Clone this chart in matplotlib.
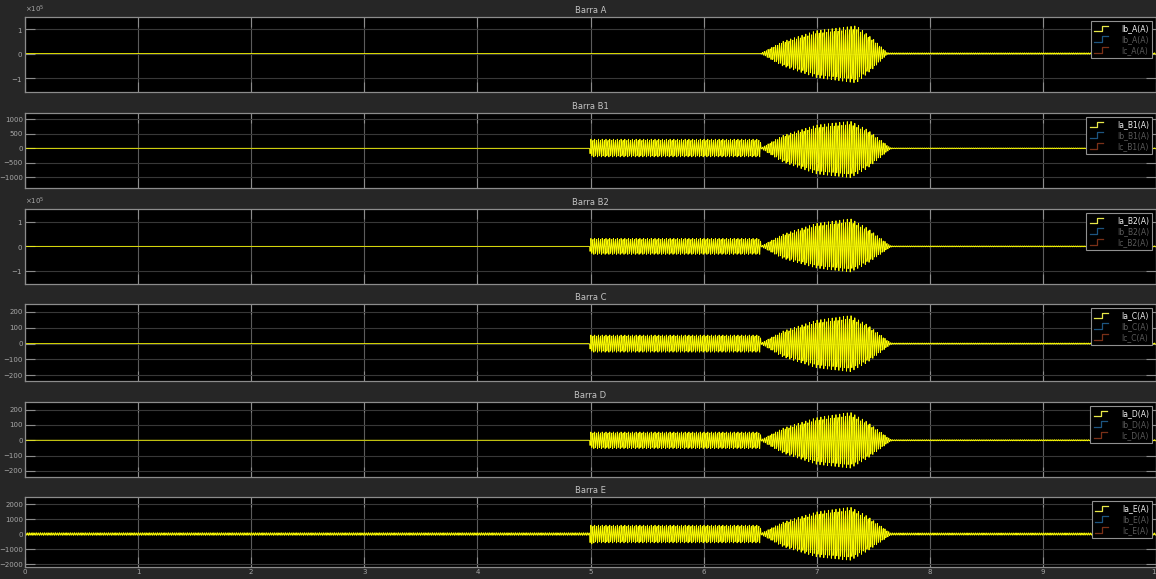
import matplotlib.pyplot as plt
import numpy as np
from matplotlib.legend_handler import HandlerBase
from matplotlib.lines import Line2D
from matplotlib.ticker import ScalarFormatter

# envelope breakpoints (time in s, upper / lower peak current in A) for each bus
t_A = [0, 6.50, 6.51, 6.70, 7.00, 7.35, 7.50, 7.62, 7.64, 10]
up_A = [0, 0, 0.02e5, 0.50e5, 0.95e5, 1.15e5, 0.60e5, 0.05e5, 0.03e5, 0.03e5]
lo_A = [0, 0, -0.02e5, -0.52e5, -1.00e5, -1.22e5, -0.62e5, -0.05e5, -0.03e5, -0.03e5]

t_B1 = [0, 4.99, 5.00, 6.50, 6.51, 6.70, 7.00, 7.30, 7.45, 7.65, 7.67, 10]
up_B1 = [0, 0, 320, 320, 20, 450, 820, 950, 650, 30, 15, 15]
lo_B1 = [0, 0, -300, -300, -20, -480, -900, -1030, -700, -30, -15, -15]

t_B2 = [0, 4.99, 5.00, 6.50, 6.51, 6.70, 7.00, 7.30, 7.45, 7.65, 7.67, 10]
up_B2 = [0, 0, 0.33e5, 0.33e5, 0.02e5, 0.50e5, 0.95e5, 1.14e5, 0.75e5, 0.04e5, 0.02e5, 0.02e5]
lo_B2 = [0, 0, -0.33e5, -0.33e5, -0.02e5, -0.50e5, -0.90e5, -1.06e5, -0.70e5, -0.04e5, -0.02e5, -0.02e5]

t_C = [0, 4.99, 5.00, 6.50, 6.51, 6.70, 7.00, 7.30, 7.45, 7.65, 7.67, 10]
up_C = [0, 0, 55, 55, 5, 80, 150, 180, 120, 8, 4, 4]
lo_C = [0, 0, -55, -55, -5, -85, -155, -180, -120, -8, -4, -4]

t_D = [0, 4.99, 5.00, 6.50, 6.51, 6.70, 7.00, 7.30, 7.45, 7.65, 7.67, 10]
up_D = [0, 0, 55, 55, 5, 80, 150, 185, 120, 8, 4, 4]
lo_D = [0, 0, -55, -55, -5, -85, -160, -185, -120, -8, -4, -4]

t_E = [0, 4.99, 5.00, 5.03, 6.50, 6.51, 6.70, 7.00, 7.30, 7.45, 7.65, 7.67, 10]
up_E = [90, 90, 600, 600, 600, 60, 800, 1500, 1820, 1200, 90, 80, 80]
lo_E = [-90, -90, -870, -600, -600, -60, -850, -1550, -1780, -1150, -90, -80, -80]

titles = ["Barra A", "Barra B1", "Barra B2", "Barra C", "Barra D", "Barra E"]
buses = ["A", "B1", "B2", "C", "D", "E"]
first_labels = ["Ib_A(A)", "Ia_B1(A)", "Ia_B2(A)", "Ia_C(A)", "Ia_D(A)", "Ia_E(A)"]
yticks = [[-1e5, 0, 1e5], [-1000, -500, 0, 500, 1000], [-1e5, 0, 1e5],
          [-200, -100, 0, 100, 200], [-200, -100, 0, 100, 200],
          [-2000, -1000, 0, 1000, 2000]]
ylims = [(-1.57e5, 1.49e5), (-1370, 1220), (-1.53e5, 1.52e5),
         (-236, 250), (-240, 250), (-2200, 2470)]
envelopes = [(t_A, up_A, lo_A), (t_B1, up_B1, lo_B1), (t_B2, up_B2, lo_B2),
             (t_C, up_C, lo_C), (t_D, up_D, lo_D), (t_E, up_E, lo_E)]

f_grid = 60.0
t = np.arange(0, 10, 1 / 270)
carrier = np.sin(2 * np.pi * f_grid * t)

# axes boxes in pixels: (top, height)
W, H = 1156, 579
boxes = [(17, 75), (113, 75), (209, 75), (304, 77), (402, 75), (497, 70)]

BG = "#262626"
YEL = "#ffff00"


class StepHandler(HandlerBase):
    def create_artists(self, legend, orig_handle, xdescent, ydescent,
                       width, height, fontsize, trans):
        x0, y0 = -xdescent, -ydescent
        xs = [x0, x0 + width * 0.55, x0 + width * 0.55, x0 + width]
        ys = [y0, y0, y0 + height, y0 + height]
        ln = Line2D(xs, ys, color=orig_handle.get_color(), lw=0.9, transform=trans)
        return [ln]


fig = plt.figure(figsize=(W / 100, H / 100), dpi=100, facecolor=BG)

for i, (top, h) in enumerate(boxes):
    ax = fig.add_axes([25 / W, 1 - (top + h) / H, 1131 / W, h / H])
    ax.set_facecolor("black")
    tt, up, lo = envelopes[i]
    env_up = np.interp(t, tt, up)
    env_lo = np.interp(t, tt, lo)
    y = np.where(carrier >= 0, env_up * carrier, -env_lo * carrier)

    ax.plot(t, y, color=YEL, lw=0.6)
    ax.set_xlim(0, 10)
    ax.set_ylim(*ylims[i])
    ax.set_xticks(range(11))
    ax.set_yticks(yticks[i])

    ax.grid(axis="x", color="#5c5c5c", lw=0.8)
    ax.grid(axis="y", color="#383838", lw=0.8)
    for s in ax.spines.values():
        s.set_color("#8c8c8c")
        s.set_linewidth(0.9)
    ax.tick_params(direction="in", length=7, top=True, right=True,
                   color="#8c8c8c", labelcolor="#a8a8a8", labelsize=5, pad=1.5)
    if i < 5:
        ax.tick_params(labelbottom=False)

    if abs(yticks[i][-1]) >= 1e5:
        fmt = ScalarFormatter(useMathText=True)
        fmt.set_powerlimits((0, 0))
        ax.yaxis.set_major_formatter(fmt)
        ax.yaxis.get_offset_text().set_fontsize(5)
        ax.yaxis.get_offset_text().set_color("#a8a8a8")

    ax.set_title(titles[i], color="#c4c4c4", fontsize=6, pad=3)

    b = buses[i]
    handles = [Line2D([], [], color="#e8e848"),
               Line2D([], [], color="#1d5580"),
               Line2D([], [], color="#7a3018")]
    labels = [first_labels[i], f"Ib_{b}(A)", f"Ic_{b}(A)"]
    leg = ax.legend(handles, labels, loc="upper right", fontsize=5.5,
                    handler_map={Line2D: StepHandler()}, handlelength=1.8,
                    handletextpad=1.8, borderaxespad=0.5, labelspacing=0.25,
                    facecolor="black", edgecolor="#909090", framealpha=1,
                    fancybox=False)
    leg.get_frame().set_linewidth(0.8)
    for j, txt in enumerate(leg.get_texts()):
        txt.set_color("#f0f0f0" if j == 0 else "#5a5a5a")

fig.savefig("out.png", dpi=100, facecolor=BG)
